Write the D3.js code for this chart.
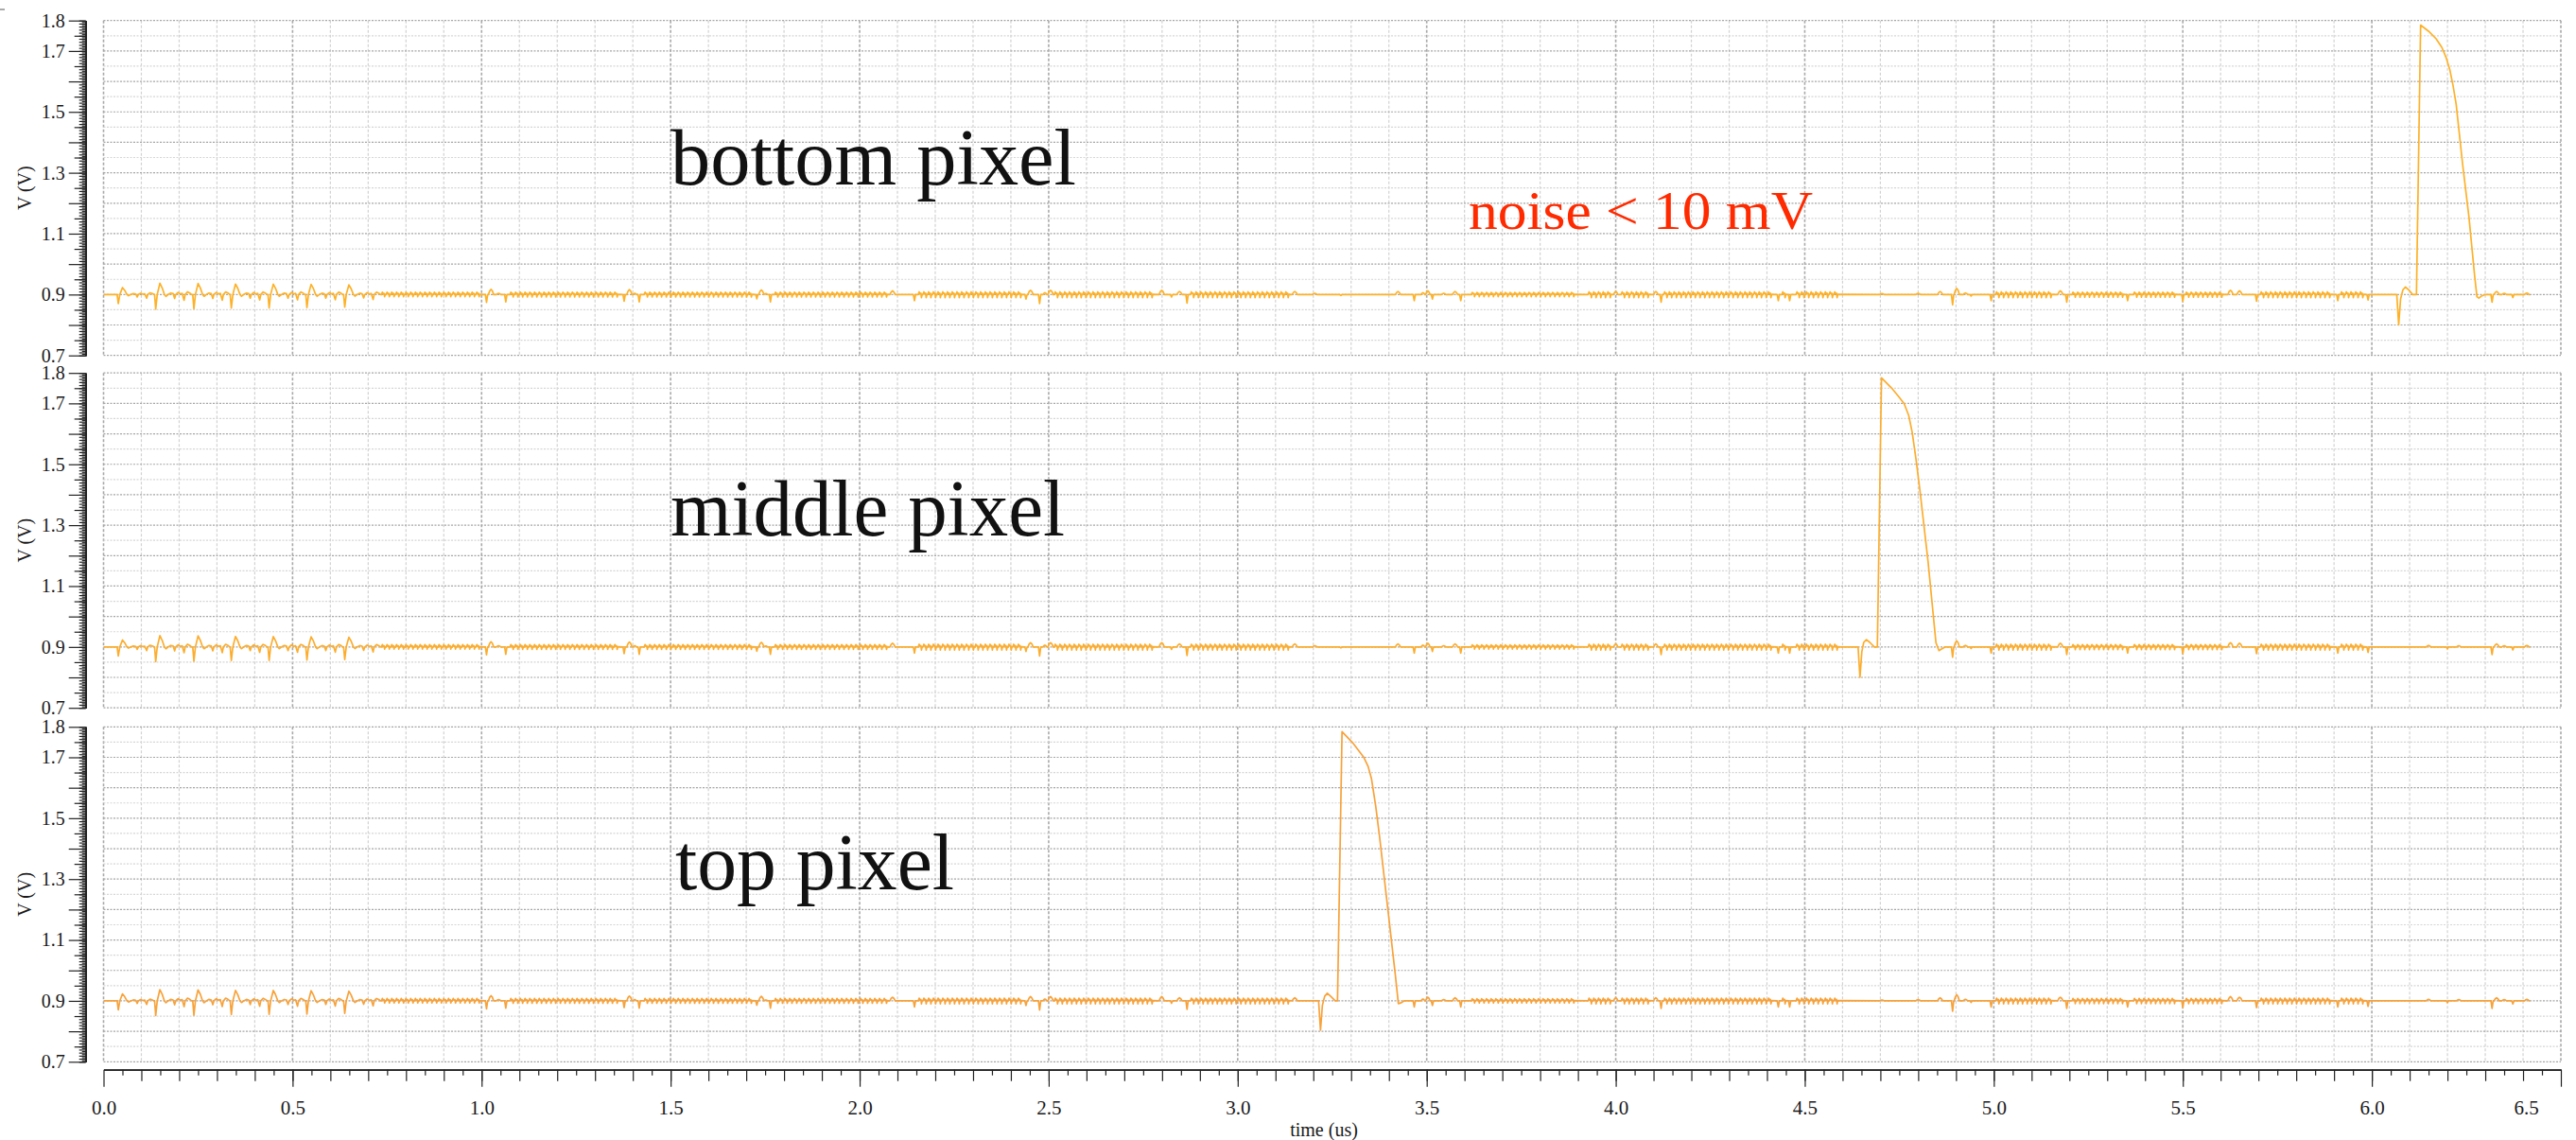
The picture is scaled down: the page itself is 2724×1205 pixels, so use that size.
<!DOCTYPE html>
<html>
<head>
<meta charset="utf-8">
<script src="https://cdn.jsdelivr.net/npm/d3@7"></script>
<style>
  html, body { margin: 0; padding: 0; background: #fff; }
  svg { display: block; }
</style>
</head>
<body>
<svg id="chart" width="2724" height="1205"></svg>
<script>
// ---------------- data ----------------
const panelNames = ["bottom pixel", "middle pixel", "top pixel"];
const traceColors = ["#fdb128", "#fcad2e", "#f8a23a"];
const noiseNote = "noise < 10 mV";

const timeTickValues = [0.0, 0.5, 1.0, 1.5, 2.0, 2.5, 3.0, 3.5, 4.0, 4.5, 5.0, 5.5, 6.0, 6.5];
const timeTickLabels = ["0.0", "0.5", "1.0", "1.5", "2.0", "2.5", "3.0", "3.5", "4.0", "4.5", "5.0", "5.5", "6.0", "6.5"];
const voltTickValues = [1.8, 1.7, 1.5, 1.3, 1.1, 0.9, 0.7];
const voltTickLabels = ["1.8", "1.7", "1.5", "1.3", "1.1", "0.9", "0.7"];

const baseline = 0.9;      // V
const traceEnd = 6.418;    // us

// start-up ringing: time of each deep dip (us) and its relative size
const burstTimes = [0.039, 0.138, 0.239, 0.338, 0.438, 0.538, 0.638];
const burstScale = [0.62, 1.0, 0.98, 0.93, 0.92, 0.9, 0.86];
// one ringing cycle: [dt from dip (us), dV (V)]
const burstShape = [
  [-0.003, 0], [0, -0.048], [0.004, 0.0], [0.011, 0.037], [0.017, 0.022],
  [0.023, 0.0], [0.027, -0.006], [0.033, 0.0], [0.04, 0.005], [0.046, 0.003],
  [0.05, -0.013], [0.053, 0.0], [0.059, 0.007], [0.065, 0.002], [0.07, 0.004],
  [0.075, -0.019], [0.078, 0.0], [0.084, 0.009], [0.09, 0.005], [0.095, 0.0]
];

// stretches of fine coupling noise: [start (us), end (us), up (mV), down (mV)]
const denseRuns = [
  [0.735, 1.005, 8, 7],
  [1.075, 1.370, 8, 8],
  [1.430, 1.720, 8, 8],
  [1.775, 2.080, 8, 8],
  [2.155, 2.435, 9, 10],
  [2.515, 2.785, 9, 10],
  [2.875, 3.145, 9, 10],
  [3.618, 3.895, 7, 7],
  [3.927, 4.597, 9, 10],
  [5.005, 5.170, 9, 10],
  [5.207, 5.620, 8, 9],
  [5.705, 6.005, 9, 10]
];
const densePeriod = 0.0125;  // us
// one fine-noise unit: [dt (us), fraction of up (+) / down (-)]
const denseShape = [[0, 0], [0.0025, 1], [0.0045, 0.3], [0.007, 0.5], [0.0085, -1], [0.0105, 0.1]];

// isolated glitches on the shared line: [t (us), dV (mV), half width (us)]
const glitches = [
  [1.013, -26, 0.003], [1.025, 17, 0.007], [1.045, 4, 0.006], [1.064, -24, 0.003],
  [1.377, -22, 0.003], [1.391, 16, 0.007], [1.405, 4, 0.005], [1.417, -24, 0.003],
  [1.728, -14, 0.003], [1.740, 15, 0.007], [1.752, 3, 0.005], [1.764, -24, 0.003],
  [2.087, 12, 0.007], [2.145, -20, 0.003],
  [2.440, -15, 0.003], [2.452, 14, 0.007], [2.476, -30, 0.003], [2.490, 6, 0.005], [2.505, 14, 0.007],
  [2.799, 14, 0.007], [2.825, -8, 0.003], [2.846, 10, 0.007], [2.866, -28, 0.003],
  [3.151, 10, 0.007], [3.204, 4, 0.006], [3.273, -3, 0.004],
  [3.424, 10, 0.007], [3.467, -20, 0.003], [3.490, 6, 0.005], [3.503, 12, 0.006], [3.515, -15, 0.003],
  [3.545, 4, 0.006], [3.575, 10, 0.007], [3.590, -20, 0.003],
  [4.000, 10, 0.006], [4.106, 10, 0.006], [4.120, -25, 0.003], [4.430, -20, 0.003], [4.460, -20, 0.003],
  [4.704, 3, 0.006], [4.800, 4, 0.006], [4.858, 10, 0.007], [4.891, -34, 0.003], [4.902, 20, 0.007],
  [4.925, 5, 0.006], [4.940, -5, 0.003], [4.993, -20, 0.003],
  [5.176, 12, 0.007], [5.193, -25, 0.003], [5.354, -20, 0.003], [5.500, -22, 0.003],
  [5.626, 14, 0.007], [5.650, 12, 0.007], [5.695, -22, 0.003], [5.910, -20, 0.003], [5.990, -18, 0.003],
  [6.150, 5, 0.006], [6.200, -6, 0.003], [6.230, 4, 0.006],
  [6.318, -25, 0.003], [6.330, 10, 0.007], [6.350, 4, 0.006], [6.373, -10, 0.003], [6.410, 5, 0.006]
];

// each pixel's output pulse: [t (us), V]
const pulseBottom = [
  [6.005, 0.9], [6.066, 0.9], [6.071, 0.80], [6.076, 0.885], [6.082, 0.915], [6.089, 0.925],
  [6.098, 0.915], [6.108, 0.9], [6.118, 0.9], [6.129, 1.785], [6.150, 1.765], [6.170, 1.740],
  [6.185, 1.712], [6.196, 1.680], [6.206, 1.640], [6.215, 1.585], [6.223, 1.525], [6.240, 1.329],
  [6.257, 1.153], [6.272, 0.960], [6.278, 0.893], [6.283, 0.888], [6.290, 0.895], [6.300, 0.9]
];
const pulseMiddle = [
  [4.596, 0.9], [4.641, 0.9], [4.646, 0.80], [4.651, 0.885], [4.656, 0.915], [4.663, 0.924],
  [4.672, 0.915], [4.684, 0.9], [4.692, 0.9], [4.703, 1.784], [4.730, 1.750], [4.750, 1.720],
  [4.763, 1.699], [4.775, 1.660], [4.784, 1.606], [4.795, 1.510], [4.805, 1.410], [4.826, 1.182],
  [4.847, 0.914], [4.855, 0.888], [4.862, 0.893], [4.872, 0.9]
];
const pulseTop = [
  [3.180, 0.9], [3.214, 0.9], [3.219, 0.804], [3.224, 0.885], [3.230, 0.915], [3.237, 0.925],
  [3.246, 0.915], [3.258, 0.9], [3.264, 0.9], [3.276, 1.784], [3.304, 1.748], [3.333, 1.701],
  [3.345, 1.670], [3.354, 1.629], [3.365, 1.540], [3.375, 1.442], [3.396, 1.214], [3.417, 0.985],
  [3.425, 0.891], [3.431, 0.893], [3.440, 0.9]
];
const pulses = [pulseBottom, pulseMiddle, pulseTop];

// ---------------- layout ----------------
const W = 2724, H = 1205;
const plotLeft = 109.5, plotRight = 2708;
const panelTops = [21.7, 394.2, 768.3];
const panelH = 354;
const axisX = 90.7;
const xAxisY = 1130.7;
const serif = "'Liberation Serif', 'Times New Roman', serif";

const svg = d3.select("#chart");
svg.append("rect").attr("width", W).attr("height", H).attr("fill", "#fff");

const x = d3.scaleLinear().domain([0, 6.5]).range([plotLeft, plotRight]);

// grid positions
const gridTimes = d3.range(0, 66).map(i => i / 10);
const gridVolts = d3.range(14, 37).map(i => i / 20);

// shared coupling-noise line
function sharedLine() {
  const pts = [[0, baseline]];
  burstTimes.forEach((ts, i) => burstShape.forEach(([dt, dv]) => pts.push([ts + dt, baseline + dv * burstScale[i]])));
  const busy = glitches.map(g => [g[0] - g[2] - 0.003, g[0] + g[2] + 0.003]);
  denseRuns.forEach(([a, b, up, down]) => {
    for (let t = a; t + densePeriod <= b + 1e-9; t += densePeriod) {
      if (busy.some(([l, r]) => t + densePeriod > l && t < r)) continue;
      denseShape.forEach(([dt, k]) => pts.push([t + dt, baseline + (k >= 0 ? k * up : k * down) / 1000]));
    }
  });
  glitches.forEach(([t, mv, w]) => {
    const dv = mv / 1000;
    if (w > 0.004) {
      pts.push([t - w, baseline], [t - w / 2, baseline + 0.7 * dv], [t, baseline + dv],
               [t + w / 2, baseline + 0.7 * dv], [t + w, baseline]);
    } else {
      pts.push([t - w, baseline], [t, baseline + dv], [t + w, baseline]);
    }
  });
  pts.push([traceEnd, baseline]);
  return pts.sort((a, b) => a[0] - b[0]);
}
const shared = sharedLine();

panelTops.forEach((top, p) => {
  const y = d3.scaleLinear().domain([0.7, 1.8]).range([top + panelH, top]);
  const g = svg.append("g");

  // grid
  g.selectAll(".vgrid").data(gridTimes).join("line")
    .attr("x1", d => x(d)).attr("x2", d => x(d))
    .attr("y1", top).attr("y2", top + panelH)
    .attr("stroke", d => (Math.round(d * 10) % 5 === 0) ? "#a9a9a9" : "#d2d2d2")
    .attr("stroke-width", d => (Math.round(d * 10) % 5 === 0) ? 1.6 : 1.2)
    .attr("stroke-dasharray", "3,2");
  g.selectAll(".hgrid").data(gridVolts).join("line")
    .attr("x1", plotLeft).attr("x2", plotRight)
    .attr("y1", d => y(d)).attr("y2", d => y(d))
    .attr("stroke", d => (Math.round(d * 20) % 2 === 0) ? "#a6a6a6" : "#d6d6d6")
    .attr("stroke-width", 1.2)
    .attr("stroke-dasharray", "2,1.5");

  // y axis: long ticks with labels, then shorter minor ticks
  const ax = svg.append("g").attr("transform", `translate(${axisX},0)`);
  ax.append("g").call(d3.axisLeft(y).tickValues(d3.range(7, 19).map(i => i / 10)).tickSize(18).tickSizeOuter(0)
      .tickFormat(d => { const k = voltTickValues.findIndex(v => Math.abs(v - d) < 1e-6); return k >= 0 ? voltTickLabels[k] : ""; })
      .tickPadding(4));
  ax.append("g").call(d3.axisLeft(y).tickValues(d3.range(15, 37, 2).map(i => i / 20)).tickSize(12).tickSizeOuter(0).tickFormat(""));
  ax.append("g").call(d3.axisLeft(y).tickValues(d3.range(70, 181).map(i => i / 100)).tickSize(7).tickSizeOuter(0).tickFormat(""));
  ax.append("g").call(d3.axisLeft(y).tickValues(d3.range(141, 361, 2).map(i => i / 200)).tickSize(4).tickSizeOuter(0).tickFormat(""));
  ax.selectAll("path.domain").attr("stroke", "#222").attr("stroke-width", 1.5);
  ax.selectAll(".tick line").attr("stroke", "#222").attr("stroke-width", 1.2);
  ax.selectAll(".tick text").attr("font-family", serif).attr("font-size", 20).attr("fill", "#1a1a1a");

  svg.append("text")
    .attr("transform", `translate(26,${top + panelH / 2}) rotate(-90)`)
    .attr("text-anchor", "middle").attr("dominant-baseline", "central")
    .attr("font-family", serif).attr("font-size", 20).attr("fill", "#1a1a1a")
    .text("V (V)");

  // trace
  const pulse = pulses[p];
  const a = pulse[0][0], b = pulse[pulse.length - 1][0];
  const pts = shared.filter(d => d[0] < a || d[0] > b).concat(pulse).sort((m, n) => m[0] - n[0]);
  const clipId = "clip" + p;
  svg.append("clipPath").attr("id", clipId).append("rect")
    .attr("x", plotLeft).attr("y", top - 1).attr("width", plotRight - plotLeft).attr("height", panelH + 2);
  svg.append("path")
    .datum(pts)
    .attr("clip-path", `url(#${clipId})`)
    .attr("fill", "none")
    .attr("stroke", traceColors[p])
    .attr("stroke-width", 1.7)
    .attr("stroke-linejoin", "round")
    .attr("d", d3.line().x(d => x(d[0])).y(d => y(d[1])));
});

// x axis
const xa = svg.append("g").attr("transform", `translate(0,${xAxisY})`);
xa.append("g").call(d3.axisBottom(x).tickValues(timeTickValues).tickSize(18).tickSizeOuter(0).tickPadding(14)
    .tickFormat((d, i) => timeTickLabels[i]));
xa.append("g").call(d3.axisBottom(x).tickValues(d3.range(1, 65).map(i => i / 10)).tickSize(12).tickSizeOuter(0).tickFormat(""));
xa.append("g").call(d3.axisBottom(x).tickValues(d3.range(1, 130, 2).map(i => i / 20)).tickSize(6).tickSizeOuter(0).tickFormat(""));
xa.selectAll("path.domain").attr("stroke", "#222").attr("stroke-width", 1.5);
xa.selectAll(".tick line").attr("stroke", "#222").attr("stroke-width", 1.2);
xa.selectAll(".tick text").attr("font-family", serif).attr("font-size", 21).attr("fill", "#1a1a1a");
// the last label sits pulled in from the right edge
xa.selectAll(".tick text").filter(d => d === 6.5).attr("dx", -37);

svg.append("text")
  .attr("x", 1400).attr("y", 1201)
  .attr("text-anchor", "middle")
  .attr("font-family", serif).attr("font-size", 20).attr("fill", "#1a1a1a")
  .text("time (us)");

// small mark at top-left corner
svg.append("line").attr("x1", 0).attr("x2", 5).attr("y1", 10).attr("y2", 10).attr("stroke", "#555").attr("stroke-width", 1);

// panel captions
const captionPos = [[709, 194.5, 429], [709, 566, 417], [714, 940, 295]];
panelNames.forEach((name, i) => {
  const [cx, cy, cw] = captionPos[i];
  svg.append("text")
    .attr("x", cx).attr("y", cy)
    .attr("font-family", serif).attr("font-size", 84).attr("fill", "#111")
    .attr("textLength", cw).attr("lengthAdjust", "spacingAndGlyphs")
    .text(name);
});

svg.append("text")
  .attr("x", 1553).attr("y", 241.5)
  .attr("font-family", serif).attr("font-size", 58).attr("fill", "#ff2a00")
  .attr("textLength", 364).attr("lengthAdjust", "spacingAndGlyphs")
  .text(noiseNote);
</script>
</body>
</html>
